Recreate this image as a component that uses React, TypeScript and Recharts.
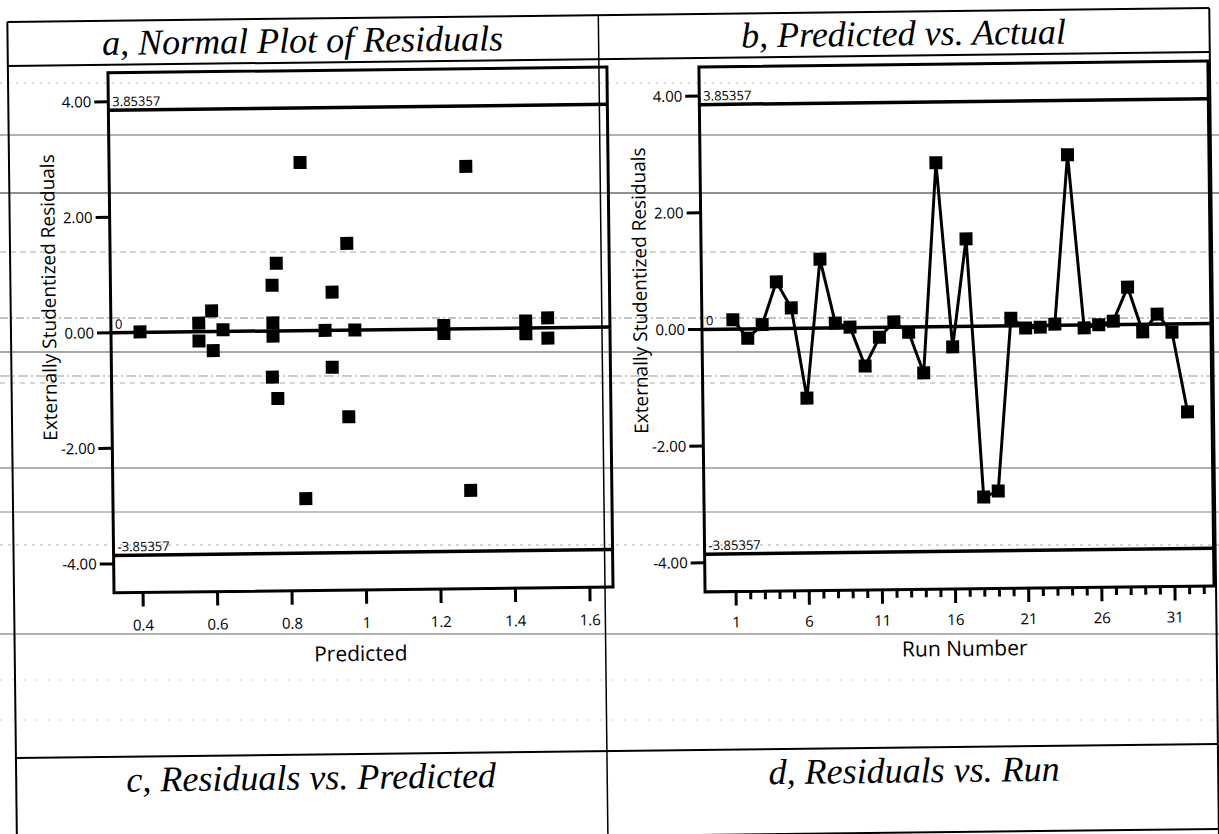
import React from "react";
import {
  ScatterChart,
  Scatter,
  LineChart,
  Line,
  XAxis,
  YAxis,
  ReferenceLine,
  ReferenceArea,
} from "recharts";

// panel a: residual vs predicted
const PRED_X = [
  0.4, 0.558, 0.558, 0.593, 0.596, 0.623, 0.756, 0.754, 0.757, 0.757, 0.768, 0.768, 0.835, 0.84,
  0.897, 0.917, 0.915, 0.958, 0.958, 0.977, 1.216, 1.216, 1.28, 1.283, 1.436, 1.436, 1.495, 1.495,
];
const PRED_RESID = [
  0.01, 0.15, -0.16, 0.36, -0.33, 0.03, 0.79, -0.8, 0.14, -0.09, 1.17, -1.17, 2.91, -2.91,
  0.0, 0.66, -0.64, 1.5, -1.5, 0.0, 0.06, -0.08, 2.81, -2.8, 0.12, -0.1, 0.17, -0.18,
];
const PRED_TICKS = [0.4, 0.6, 0.8, 1, 1.2, 1.4, 1.6];
const PRED_DOMAIN: [number, number] = [0.322, 1.662];

// panel b: residual vs run
const RUNS = [
  1, 2, 3, 4, 5, 6, 7, 8, 9, 10, 11, 12, 13, 14, 15, 16, 17, 18, 19, 20, 21, 22, 23, 24, 25, 26,
  27, 28, 29, 30, 31, 32,
];
const RUN_RESID = [
  0.16, -0.16, 0.07, 0.8, 0.35, -1.2, 1.18, 0.08, 0.01, -0.66, -0.17, 0.09, -0.09, -0.79, 2.81,
  -0.35, 1.5, -2.93, -2.83, 0.13, -0.04, -0.03, 0.02, 2.92, -0.05, 0.0, 0.06, 0.64, -0.13, 0.17,
  -0.14, -1.51,
];
const RUN_TICKS = [
  1, 2, 3, 4, 5, 6, 7, 8, 9, 10, 11, 12, 13, 14, 15, 16, 17, 18, 19, 20, 21, 22, 23, 24, 25, 26,
  27, 28, 29, 30, 31, 32, 33,
];
const RUN_MAJOR = [1, 6, 11, 16, 21, 26, 31];
const RUN_DOMAIN: [number, number] = [-1.12, 33.67];

const Y_TICKS = [4, 2, 0, -2, -4];
const Y_DOMAIN: [number, number] = [-4.5, 4.5];
const LIMIT = 3.85357;

const SANS = "'Open Sans', sans-serif";
const SERIF = "'Liberation Serif', serif";

// faint ruled lines from the scanned page
const RULES = [
  { y: 83, c: "#bbb", w: 1, d: "2 6" },
  { y: 135, c: "#999", w: 1.5, d: "" },
  { y: 193, c: "#222", w: 1, d: "" },
  { y: 252, c: "#aaa", w: 1, d: "6 4" },
  { y: 318, c: "#888", w: 1.2, d: "8 3 2 3" },
  { y: 352, c: "#888", w: 1.5, d: "" },
  { y: 376, c: "#999", w: 1, d: "10 3 2 3" },
  { y: 383, c: "#aaa", w: 1, d: "5 5" },
  { y: 468, c: "#999", w: 1.5, d: "" },
  { y: 512, c: "#888", w: 1.2, d: "" },
  { y: 545, c: "#aaa", w: 1, d: "3 5" },
  { y: 634, c: "#999", w: 1.5, d: "" },
  { y: 680, c: "#ccc", w: 1, d: "2 10" },
  { y: 720, c: "#ccc", w: 1, d: "2 10" },
];

const Square = (props: any) => {
  const { cx, cy } = props;
  if (cx == null || cy == null) return <g />;
  return <rect x={cx - 6.5} y={cy - 6.5} width={13} height={13} fill="#000" />;
};

const PredTick = (props: any) => {
  const { x, y, payload } = props;
  return (
    <g>
      <line x1={x} x2={x} y1={y} y2={y + 14} stroke="#000" strokeWidth={3} />
      <text x={x} y={y + 38} textAnchor="middle" fontSize={15} fontFamily={SANS} fill="#000">
        {payload.value}
      </text>
    </g>
  );
};

const RunTick = (props: any) => {
  const { x, y, payload } = props;
  const major = RUN_MAJOR.includes(payload.value);
  return (
    <g>
      <line x1={x} x2={x} y1={y} y2={y + (major ? 14 : 8)} stroke="#000" strokeWidth={3} />
      {major && (
        <text x={x} y={y + 36} textAnchor="middle" fontSize={15} fontFamily={SANS} fill="#000">
          {payload.value}
        </text>
      )}
    </g>
  );
};

const limitLabel = (value: string) => ({
  value,
  position: "insideBottomLeft" as const,
  offset: 4,
  fontSize: 13,
  fontFamily: SANS,
  fill: "#000",
});

function YAxisStd() {
  return (
    <YAxis
      type="number"
      dataKey="residual"
      domain={Y_DOMAIN}
      ticks={Y_TICKS}
      interval={0}
      allowDataOverflow
      width={50}
      axisLine={false}
      tickSize={14}
      tickMargin={3}
      tickLine={{ stroke: "#000", strokeWidth: 3 }}
      tickFormatter={(v: number) => v.toFixed(2)}
      tick={{ fill: "#000", fontSize: 15, fontFamily: SANS }}
    />
  );
}

export default function App() {
  const predData = PRED_X.map((x, i) => ({ predicted: x, residual: PRED_RESID[i] }));
  const runData = RUNS.map((r, i) => ({ run: r, residual: RUN_RESID[i] }));

  return (
    <div
      style={{
        position: "absolute",
        left: 0,
        top: 0,
        width: 1219,
        height: 834,
        overflow: "hidden",
        background: "#fff",
      }}
    >
      <svg width={1219} height={834} style={{ position: "absolute", left: 0, top: 0 }}>
        {RULES.map((r, i) => (
          <line
            key={i}
            x1={0}
            x2={1219}
            y1={r.y}
            y2={r.y}
            stroke={r.c}
            strokeWidth={r.w}
            strokeDasharray={r.d || undefined}
          />
        ))}
      </svg>

      <div
        style={{
          position: "absolute",
          left: 0,
          top: 0,
          width: 1219,
          height: 834,
          transform: "rotate(-0.67deg)",
          transformOrigin: "609px 417px",
        }}
      >
        <svg width={1219} height={850} style={{ position: "absolute", left: 0, top: 0 }}>
          <g stroke="#000" strokeWidth={2}>
            <line x1={12} x2={1214} y1={15} y2={15} />
            <line x1={12} x2={1214} y1={59} y2={59} />
            <line x1={12} x2={1214} y1={751} y2={751} />
            <line x1={12} x2={1214} y1={836} y2={836} />
            <line x1={12} x2={12} y1={15} y2={850} />
            <line x1={1214} x2={1214} y1={15} y2={850} />
            <line x1={603} x2={603} y1={15} y2={850} strokeWidth={1.5} />
          </g>
          <g fontFamily={SERIF} fontStyle="italic" fontSize={36} fill="#000" textAnchor="middle">
            <text x={307} y={49}>a, Normal Plot of Residuals</text>
            <text x={908} y={49}>b, Predicted vs. Actual</text>
            <text x={307} y={786}>c, Residuals vs. Predicted</text>
            <text x={910} y={786}>d, Residuals vs. Run</text>
          </g>
          <g fontFamily={SANS} fill="#000" textAnchor="middle">
            <text x={358} y={658} fontSize={21}>Predicted</text>
            <text x={962} y={660} fontSize={21}>Run Number</text>
            <text x={50} y={291} fontSize={19} transform="rotate(-90 50 291)" dominantBaseline="central">
              Externally Studentized Residuals
            </text>
            <text x={641} y={291} fontSize={19} transform="rotate(-90 641 291)" dominantBaseline="central">
              Externally Studentized Residuals
            </text>
          </g>
        </svg>

        <div style={{ position: "absolute", left: 0, top: 0 }}>
          <ScatterChart width={625} height={640} margin={{ top: 67, right: 14, bottom: 13, left: 62 }}>
            <XAxis
              type="number"
              dataKey="predicted"
              domain={PRED_DOMAIN}
              ticks={PRED_TICKS}
              interval={0}
              allowDataOverflow
              height={40}
              axisLine={false}
              tickLine={false}
              tickSize={0}
              tickMargin={0}
              tick={<PredTick />}
            />
            {YAxisStd()}
            <ReferenceArea
              x1={PRED_DOMAIN[0]}
              x2={PRED_DOMAIN[1]}
              y1={Y_DOMAIN[0]}
              y2={Y_DOMAIN[1]}
              fill="none"
              stroke="#000"
              strokeWidth={3}
              ifOverflow="visible"
            />
            <ReferenceLine y={LIMIT} stroke="#000" strokeWidth={3.5} label={limitLabel("3.85357")} />
            <ReferenceLine y={0} stroke="#000" strokeWidth={3.5} label={limitLabel("0")} />
            <ReferenceLine y={-LIMIT} stroke="#000" strokeWidth={3.5} label={limitLabel("-3.85357")} />
            <Scatter data={predData} shape={Square} isAnimationActive={false} />
          </ScatterChart>
        </div>

        <div style={{ position: "absolute", left: 600, top: 0 }}>
          <LineChart width={620} height={660} data={runData} margin={{ top: 68, right: 8, bottom: 27, left: 53 }}>
            <XAxis
              type="number"
              dataKey="run"
              domain={RUN_DOMAIN}
              ticks={RUN_TICKS}
              interval={0}
              allowDataOverflow
              height={40}
              axisLine={false}
              tickLine={false}
              tickSize={0}
              tickMargin={0}
              tick={<RunTick />}
            />
            {YAxisStd()}
            <ReferenceArea
              x1={RUN_DOMAIN[0]}
              x2={RUN_DOMAIN[1]}
              y1={Y_DOMAIN[0]}
              y2={Y_DOMAIN[1]}
              fill="none"
              stroke="#000"
              strokeWidth={3}
              ifOverflow="visible"
            />
            <ReferenceLine y={LIMIT} stroke="#000" strokeWidth={3.5} label={limitLabel("3.85357")} />
            <ReferenceLine y={0} stroke="#000" strokeWidth={3.5} label={limitLabel("0")} />
            <ReferenceLine y={-LIMIT} stroke="#000" strokeWidth={3.5} label={limitLabel("-3.85357")} />
            <Line
              dataKey="residual"
              stroke="#000"
              strokeWidth={3}
              dot={Square}
              activeDot={false}
              isAnimationActive={false}
            />
          </LineChart>
        </div>
      </div>
    </div>
  );
}
